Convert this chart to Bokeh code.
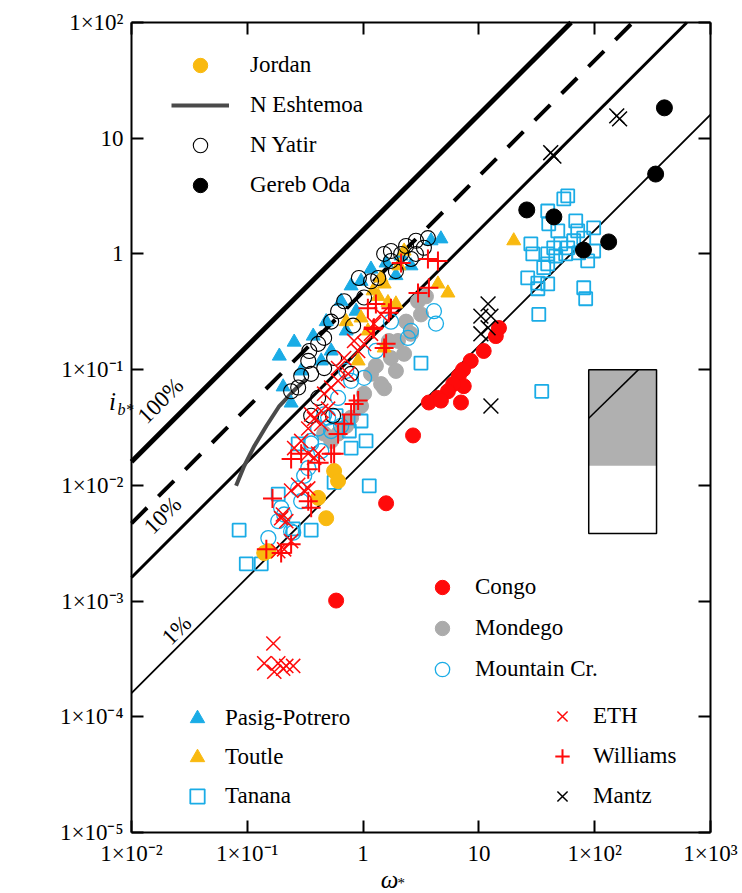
import math
from bokeh.plotting import figure
from bokeh.models import (Range1d, FixedTicker, LogAxis, CustomJSTickFormatter, Legend,
                          LegendItem, Label)
from bokeh.embed import file_html
from bokeh.resources import INLINE

# ---------------- data ----------------
x_ticks = [1e-2, 1e-1, 1, 10, 1e2, 1e3]
x_tick_labels = ["1×10⁻²", "1×10⁻¹", "1", "10", "1×10²", "1×10³"]
y_ticks = [1e-5, 1e-4, 1e-3, 1e-2, 1e-1, 1, 10, 1e2]
y_tick_labels = ["1×10⁻⁵", "1×10⁻⁴", "1×10⁻³", "1×10⁻²", "1×10⁻¹", "1", "10", "1×10²"]
x_lim = (1e-2, 1e3)
y_lim = (1e-5, 1e2)

# reference lines i = c * omega
line_names = ["100%", "dashed", "10%", "1%"]
line_coef = [1.6, 0.47, 0.16, 0.016]

gereb_w = [400, 336, 25.9, 44.4, 80, 132]
gereb_i = [18.3, 4.9, 2.4, 2.09, 1.08, 1.27]

mantz_w = [155, 164, 41.7, 44.4, 12.0, 10.4, 12.7, 10.4, 12.0, 12.7]
mantz_i = [15.6, 14.7, 7.5, 7.0, 0.37, 0.29, 0.29, 0.204, 0.23, 0.0485]

congo_w = [14.9, 14.0, 11.0, 8.5, 7.3, 6.7, 7.4, 6.0, 5.4, 7.0, 4.4, 3.7, 4.7, 2.7, 1.58, 0.585]
congo_i = [0.229, 0.195, 0.145, 0.119, 0.10, 0.088, 0.072, 0.075, 0.065, 0.052, 0.057, 0.052,
           0.054, 0.027, 0.0070, 0.00101]

eth_w = [0.185, 0.208, 0.239, 0.203, 0.217, 0.196, 0.239, 0.275, 0.310, 0.336, 0.254, 0.292,
         0.336, 0.378, 0.409, 0.378, 0.435, 0.336, 0.356, 0.435, 0.499, 0.461, 0.530, 0.608,
         0.608, 0.686, 0.743, 0.906, 1.02, 1.17, 1.24, 1.43, 0.836,
         0.168, 0.140, 0.185, 0.217, 0.249, 0.171, 0.204]
eth_i = [0.0027, 0.0028, 0.0033, 0.0056, 0.0049, 0.0052, 0.0090, 0.0101, 0.0090, 0.0094, 0.0210,
         0.0242, 0.0188, 0.0173, 0.0188, 0.0375, 0.034, 0.031, 0.041, 0.044, 0.046, 0.062, 0.070,
         0.080, 0.103, 0.126, 0.092, 0.145, 0.167, 0.204, 0.249, 0.30, 0.177,
         4.3e-4, 2.9e-4, 2.9e-4, 2.75e-4, 2.75e-4, 2.45e-4, 2.6e-4]

williams_w = [0.146, 0.196, 0.239, 0.165, 0.336, 0.356, 0.336, 0.239, 0.292, 0.562, 0.686, 0.836,
              0.417, 0.530, 0.788, 0.906, 1.52, 1.24, 1.74, 2.13, 3.63, 4.43, 2.98, 3.70, 1.29,
              1.67, 1.22, 1.58, 1.10, 0.608]
williams_i = [0.0028, 0.0026, 0.0031, 0.0077, 0.0073, 0.0064, 0.0138, 0.0169, 0.0188, 0.0188,
              0.034, 0.0505, 0.0157, 0.0188, 0.041, 0.054, 0.154, 0.23, 0.34, 0.836, 0.905, 0.87,
              0.46, 0.51, 0.37, 0.31, 0.225, 0.167, 0.34, 0.0278]

pasig_w = [0.189, 0.254, 0.204, 0.239, 0.371, 1.17, 4.70, 3.86, 0.48, 0.646, 0.788, 0.96, 1.58,
           2.13, 0.53, 0.714, 0.435, 0.87, 1.92, 2.59, 0.292]
pasig_i = [0.131, 0.173, 0.071, 0.0515, 0.195, 0.74, 1.35, 1.30, 0.26, 0.39, 0.53, 0.58, 0.836,
           0.96, 0.145, 0.216, 0.119, 0.32, 0.65, 0.79, 0.0975]

toutle_w = [20.0, 5.4, 4.43, 2.26, 1.43, 1.64, 1.92, 0.96, 1.35, 1.52, 0.906, 1.52, 1.10, 0.714,
            2.04, 1.22]
toutle_i = [1.30, 0.46, 0.55, 1.06, 0.62, 0.38, 0.37, 0.28, 0.43, 0.55, 0.119, 0.154, 0.216,
            0.26, 0.79, 0.48]

jordan_w = [0.562, 0.608, 0.409, 0.48, 0.152, 0.140]
jordan_i = [0.0133, 0.0109, 0.0078, 0.0052, 0.0027, 0.0026]

yatir_w = [3.63, 3.35, 2.86, 2.13, 1.74, 1.52, 1.35, 1.17, 1.02, 0.686, 0.608, 0.461, 0.409,
           0.343, 0.336, 0.275, 0.356, 0.461, 0.239, 0.409, 0.788, 0.562, 0.92, 2.59, 2.35,
           1.92, 0.82, 0.53, 0.356, 0.55, 0.292, 1.74, 2.86]
yatir_i = [1.37, 1.13, 1.0, 1.0, 0.87, 1.0, 0.62, 0.58, 0.42, 0.39, 0.32, 0.188, 0.167, 0.145,
           0.119, 0.070, 0.092, 0.103, 0.065, 0.057, 0.092, 0.126, 0.62, 0.905, 1.17, 0.71, 0.24,
           0.26, 0.040, 0.040, 0.088, 1.06, 1.30]

mondego_w = [1.52, 1.43, 2.26, 1.74, 1.02, 0.788, 0.608, 0.53, 2.98, 3.16, 2.59, 2.0, 1.17, 0.461,
             1.29, 0.96, 0.714, 2.35, 3.49, 1.92, 1.67]
mondego_i = [0.069, 0.075, 0.137, 0.126, 0.062, 0.0385, 0.028, 0.0242, 0.39, 0.30, 0.204, 0.177,
             0.092, 0.028, 0.108, 0.0485, 0.0326, 0.26, 0.43, 0.0975, 0.177]

mountain_w = [4.09, 4.26, 2.59, 2.44, 1.02, 0.788, 0.608, 0.461, 0.409, 0.356, 0.336, 0.275,
              0.208, 0.239, 0.152, 0.185, 0.196, 0.249, 0.310, 0.53, 0.499, 0.646, 0.356, 1.74,
              1.29, 0.714, 0.435, 0.292]
mountain_i = [0.32, 0.25, 0.216, 0.188, 0.085, 0.080, 0.057, 0.041, 0.031, 0.0242, 0.0141, 0.0094,
              0.0056, 0.0040, 0.0035, 0.0049, 0.0064, 0.0039, 0.0121, 0.0295, 0.0385, 0.0326,
              0.0230, 0.26, 0.145, 0.0975, 0.0198, 0.0073]

tanana_w = [0.085, 0.098, 0.132, 0.185, 0.356, 0.249, 0.562, 1.13, 1.06, 0.788, 0.96, 3.16, 34.9,
            0.275, 0.585, 0.76,
            58.5, 54.1, 39.3, 40.1, 68.6, 98.0, 71.3, 28.1, 29.2, 39.3, 44.3, 50.9, 58.5, 65.9,
            80.4, 98.0, 87.0, 39.3, 26.4, 32.3, 39.3, 32.3, 80.4, 83.6, 32.9, 48.0, 36.3, 46.1,
            56.2, 72.8]
tanana_i = [0.0041, 0.0021, 0.0021, 0.0084, 0.0041, 0.0042, 0.0106, 0.0099, 0.0242, 0.021, 0.036,
            0.114, 0.065, 0.0228, 0.040, 0.0295,
            3.17, 2.99, 2.35, 1.82, 1.93, 1.68, 1.58, 1.22, 1.0, 1.0, 1.13, 1.22, 1.13, 1.30,
            1.37, 1.06, 0.87, 0.82, 0.62, 0.56, 0.55, 0.50, 0.51, 0.41, 0.30, 1.58, 0.76, 0.96,
            1.0, 1.02]

eshtemoa_w = [0.080, 0.094, 0.115, 0.146, 0.189, 0.249, 0.323]
eshtemoa_i = [0.0099, 0.0147, 0.0219, 0.0326, 0.0485, 0.065, 0.083]

# schematic inset box (omega, i)
inset_left, inset_right = 88.8, 342.0
inset_bottom, inset_split, inset_top = 0.00383, 0.0148, 0.1
inset_diag_w = [88.8, 239.0]
inset_diag_i = [0.038, 0.1]

# ---------------- layout / styles ----------------
FONT = "'Liberation Serif', 'Times New Roman', serif"
BLUE = "#1AACE6"
GOLD = "#F9B90F"
RED = "#FF0A0A"
GREY = "#ABABAB"

W, H = 742, 893
FL, FR, FT, FB = 131, 710, 22, 832          # frame box of the axes in canvas pixels
lx0, lx1 = math.log10(x_lim[0]), math.log10(x_lim[1])
ly0, ly1 = math.log10(y_lim[0]), math.log10(y_lim[1])
dx = (lx1 - lx0) / (FR - FL)
dy = (ly1 - ly0) / (FB - FT)
xr = Range1d(10 ** (lx0 - FL * dx), 10 ** (lx1 + (W - FR) * dx))
yr = Range1d(10 ** (ly0 - (H - FB) * dy), 10 ** (ly1 + FT * dy))

p = figure(width=W, height=H, x_axis_type="log", y_axis_type="log",
           x_range=xr, y_range=yr, x_axis_location=None, y_axis_location=None,
           output_backend="svg", toolbar_location=None,
           min_border=0, min_border_left=0, min_border_right=0, min_border_top=0,
           min_border_bottom=0)
p.xgrid.visible = False
p.ygrid.visible = False
p.outline_line_color = None
p.background_fill_color = "white"
p.border_fill_color = "white"

fmt_code = """
const i = tv.findIndex(t => Math.abs(Math.log10(t) - Math.log10(tick)) < 1e-6);
return i >= 0 ? labels[i] : '';
"""


def make_axis(tks, lbls, bounds, loc, show_labels):
    if show_labels:
        fmt = CustomJSTickFormatter(args=dict(tv=tks, labels=lbls), code=fmt_code)
    else:
        fmt = CustomJSTickFormatter(code="return '';")
    ax = LogAxis(ticker=FixedTicker(ticks=tks, minor_ticks=[]), formatter=fmt,
                 bounds=bounds, fixed_location=loc)
    ax.major_tick_in = 12
    ax.major_tick_out = 0
    ax.minor_tick_line_color = None
    ax.axis_line_width = 2
    ax.axis_line_color = "black"
    ax.major_tick_line_width = 2
    ax.major_tick_line_color = "black"
    ax.major_label_text_font = FONT
    ax.major_label_text_font_size = "23px"
    ax.major_label_text_color = "black"
    ax.major_label_standoff = 8
    return ax


p.add_layout(make_axis(x_ticks, x_tick_labels, x_lim, y_lim[0], True), "below")
p.add_layout(make_axis(x_ticks, x_tick_labels, x_lim, y_lim[1], False), "above")
p.add_layout(make_axis(y_ticks, y_tick_labels, y_lim, x_lim[0], True), "left")
p.add_layout(make_axis(y_ticks, y_tick_labels, y_lim, x_lim[1], False), "right")

# reference lines, kept inside the axes box
line_styles = [dict(line_width=5, line_dash="solid"),
               dict(line_width=4, line_dash="22 16"),
               dict(line_width=3, line_dash="solid"),
               dict(line_width=1.8, line_dash="solid")]
for c, st in zip(line_coef, line_styles):
    w_end = min(x_lim[1], y_lim[1] / c)
    p.line([x_lim[0], w_end], [c * x_lim[0], c * w_end], line_color="black", **st)

pct_labels = [("100%", 0.0178, 0.054), ("10%", 0.0186, 0.0055), ("1%", 0.0245, 5.6e-4)]
for txt, xx, yy in pct_labels:
    p.add_layout(Label(x=xx, y=yy, text=txt, angle=math.pi / 4, text_font=FONT,
                       text_font_size="23px", text_align="center", text_baseline="middle",
                       text_color="black"))

# inset schematic
p.quad(left=[inset_left], right=[inset_right], bottom=[inset_bottom], top=[inset_top],
       fill_color="white", line_color=None)
p.quad(left=[inset_left], right=[inset_right], bottom=[inset_split], top=[inset_top],
       fill_color="#B0B0B0", line_color=None)
p.line(inset_diag_w, inset_diag_i, line_color="black", line_width=1.5)
p.quad(left=[inset_left], right=[inset_right], bottom=[inset_bottom], top=[inset_top],
       fill_color=None, line_color="black", line_width=1.5)

# data series
r_esh = p.line(eshtemoa_w, eshtemoa_i, line_color="#4A4A4A", line_width=4)
r_mon = p.scatter(mondego_w, mondego_i, marker="circle", size=15, fill_color=GREY, line_color=GREY)
r_mtn = p.scatter(mountain_w, mountain_i, marker="circle", size=15, fill_color=None,
                  line_color=BLUE, line_width=1.3)
r_tan = p.scatter(tanana_w, tanana_i, marker="square", size=13, fill_color=None,
                  line_color=BLUE, line_width=1.8)
r_con = p.scatter(congo_w, congo_i, marker="circle", size=15, fill_color=RED, line_color=RED)
r_jor = p.scatter(jordan_w, jordan_i, marker="circle", size=15, fill_color=GOLD, line_color=GOLD)
r_pas = p.scatter(pasig_w, pasig_i, marker="triangle", size=14, fill_color=BLUE, line_color=BLUE)
r_tou = p.scatter(toutle_w, toutle_i, marker="triangle", size=14, fill_color=GOLD, line_color=GOLD)
r_yat = p.scatter(yatir_w, yatir_i, marker="circle", size=15, fill_color=None,
                  line_color="black", line_width=1.1)
r_eth = p.scatter(eth_w, eth_i, marker="x", size=20, line_color=RED, line_width=1.5)
r_wil = p.scatter(williams_w, williams_i, marker="cross", size=19, line_color=RED, line_width=2)
r_man = p.scatter(mantz_w, mantz_i, marker="x", size=21, line_color="black", line_width=1.5)
r_ger = p.scatter(gereb_w, gereb_i, marker="circle", size=16, fill_color="black", line_color="black")


def add_legend(items, loc, standoff, spacing, gw=36):
    lg = Legend(items=[LegendItem(label=l, renderers=[r]) for l, r in items], location=loc,
                orientation="vertical", border_line_color=None, background_fill_alpha=0,
                padding=0, margin=0, spacing=spacing, label_standoff=standoff,
                glyph_width=gw, glyph_height=36, label_height=36,
                label_text_font=FONT, label_text_font_size="23px", label_text_color="black")
    p.add_layout(lg)


add_legend([("Jordan", r_jor), ("N Eshtemoa", r_esh), ("N Yatir", r_yat), ("Gereb Oda", r_ger)],
           (171, 690), 21, 4, gw=58)
add_legend([("Congo", r_con), ("Mondego", r_mon), ("Mountain Cr.", r_mtn)], (424, 206), 15, 5)
add_legend([("Pasig-Potrero", r_pas), ("Toutle", r_tou), ("Tanana", r_tan)], (179, 79), 10, 3)
add_legend([("ETH", r_eth), ("Williams", r_wil), ("Mantz", r_man)], (544, 79), 13, 4)

# axis titles (screen pixels from the canvas bottom-left)
titles = [("ω", 389, 14, "25px"), ("*", 400, 11, "15px"),
          ("i", 112, 492, "25px"), ("b*", 125, 484, "16px")]
for txt, sx, sy, fs in titles:
    p.add_layout(Label(x=sx, y=sy, x_units="screen", y_units="screen", text=txt,
                       text_font=FONT, text_font_style="italic", text_font_size=fs,
                       text_color="black", text_align="center", text_baseline="middle"))

open("out.html", "w").write(file_html(p, INLINE))
